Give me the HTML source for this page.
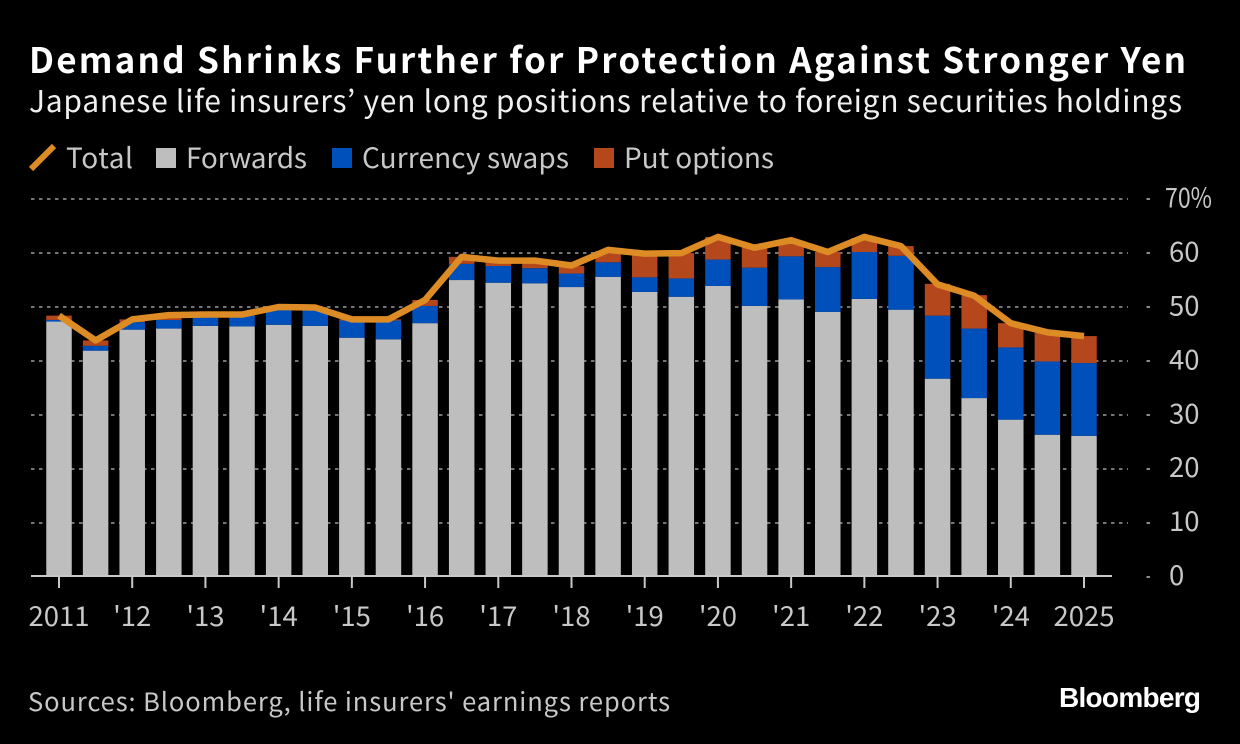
<!DOCTYPE html>
<html lang="en">
<head>
<meta charset="utf-8">
<title>Demand Shrinks Further for Protection Against Stronger Yen</title>
<style>
html,body{margin:0;padding:0;background:#000;width:1240px;height:744px;overflow:hidden}
svg{display:block}
text{font-family:"Noto Sans CJK JP","DejaVu Sans",sans-serif}
</style>
</head>
<body>
<svg id="chart" width="1240" height="744" viewBox="0 0 1240 744" xmlns="http://www.w3.org/2000/svg">
  <rect x="0" y="0" width="1240" height="744" fill="#000"/>
  <text x="29" y="73" font-size="35" font-weight="700" fill="#fff" textLength="1157" lengthAdjust="spacing">Demand Shrinks Further for Protection Against Stronger Yen</text>
  <text x="29" y="112" font-size="30" fill="#f0f0f0" textLength="1153" lengthAdjust="spacing">Japanese life insurers’ yen long positions relative to foreign securities holdings</text>

  <g>
    <g>
      <line x1="31" y1="169" x2="54" y2="146" stroke="#dd8c25" stroke-width="6"/>
      <text x="66" y="168" font-size="28" fill="#c8c8c8" textLength="67" lengthAdjust="spacing">Total</text>
    </g>
    <g>
      <rect x="156" y="148" width="20" height="20" fill="#bebebe"/>
      <text x="186" y="168" font-size="28" fill="#c8c8c8" textLength="121" lengthAdjust="spacing">Forwards</text>
    </g>
    <g>
      <rect x="332" y="148" width="20" height="20" fill="#0050bc"/>
      <text x="362" y="168" font-size="28" fill="#c8c8c8" textLength="207" lengthAdjust="spacing">Currency swaps</text>
    </g>
    <g>
      <rect x="594" y="148" width="20" height="20" fill="#b4471c"/>
      <text x="624" y="168" font-size="28" fill="#c8c8c8" textLength="150" lengthAdjust="spacing">Put options</text>
    </g>
  </g>

  <g id="grid"></g>
  <g id="bars"></g>
  <g id="axes"></g>
  <g id="line"></g>

  <text x="28" y="711" font-size="25.5" fill="#c8c8c8" textLength="642" lengthAdjust="spacing">Sources: Bloomberg, life insurers' earnings reports</text>
  <text x="1059" y="707" font-size="28" font-weight="700" fill="#fff" textLength="142" lengthAdjust="spacing" style="font-family:'Liberation Sans',sans-serif">Bloomberg</text>
</svg>
<script>
const periods = ['2011-H1','2011-H2','2012-H1','2012-H2','2013-H1','2013-H2','2014-H1','2014-H2','2015-H1','2015-H2','2016-H1','2016-H2','2017-H1','2017-H2','2018-H1','2018-H2','2019-H1','2019-H2','2020-H1','2020-H2','2021-H1','2021-H2','2022-H1','2022-H2','2023-H1','2023-H2','2024-H1','2024-H2','2025-H1'];
const forwards = [47.3,41.9,45.8,46.0,46.5,46.4,46.7,46.5,44.3,44.0,47.0,55.0,54.5,54.4,53.7,55.6,52.8,51.9,53.9,50.2,51.4,49.1,51.5,49.5,36.7,33.1,29.1,26.3,26.1];
const swaps = [0.3,0.9,1.4,1.6,2.0,2.1,3.2,3.4,3.2,3.5,3.2,3.0,3.1,2.8,2.5,2.7,2.7,3.4,4.9,7.1,8.0,8.3,8.7,10.0,11.7,12.9,13.4,13.6,13.5];
const puts = [0.8,1.0,0.5,0.5,0.1,0.1,0.1,0.1,0.2,0.2,1.1,1.3,0.8,1.2,1.4,2.1,4.5,4.7,4.2,4.1,2.9,2.8,2.6,1.8,5.9,6.2,4.5,5.3,5.0];
const total = [48.4,43.8,47.7,48.5,48.6,48.6,50.0,49.9,47.7,47.7,51.3,59.3,58.6,58.6,57.7,60.6,59.9,60.0,63.0,61.0,62.4,60.2,63.0,61.3,54.2,52.1,47.0,45.3,44.6];
const yTicks = [0,10,20,30,40,50,60,70];
const yTickLabels = ['0','10','20','30','40','50','60','70%'];
const xTickIndexes = [0,2,4,6,8,10,12,14,16,18,20,22,24,26,28];
const xTickLabels = ['2011',"'12","'13","'14","'15","'16","'17","'18","'19","'20","'21","'22","'23","'24",'2025'];

const NS = 'http://www.w3.org/2000/svg';
const xAt = i => 59 + i * (1084 - 59) / 28;
const yAt = v => 576.5 - v * 5.39;
const barWidth = 25.5;

function make(tag, attrs, parent) {
  const el = document.createElementNS(NS, tag);
  for (const k in attrs) el.setAttribute(k, attrs[k]);
  parent.appendChild(el);
  return el;
}

const grid = document.getElementById('grid');
const bars = document.getElementById('bars');
const axes = document.getElementById('axes');
const lineLayer = document.getElementById('line');

yTicks.forEach((t, i) => {
  const gy = Math.round(yAt(t));
  if (t !== 0) {
    const g = make('line', {x1: 31, x2: 1128, y1: gy, y2: gy, stroke: '#757575', 'stroke-width': 2, 'stroke-dasharray': '3.5 4.5'}, grid);
    
    
  }
  const tick = make('line', {x1: 1146.5, x2: 1150, y1: gy, y2: gy, stroke: '#8a8a8a', 'stroke-width': 2}, axes);
  
  
  const isTop = yTickLabels[i].length > 2;
  const label = make('text', {x: isTop ? 1165 : 1169, y: yAt(t) + 8.5, 'font-size': 27.5, fill: '#c8c8c8'}, axes);
  if (isTop) {
    label.setAttribute('textLength', 47);
    label.setAttribute('lengthAdjust', 'spacingAndGlyphs');
  }
  
  
  label.textContent = yTickLabels[i];
});

periods.forEach((p, i) => {
  const x = xAt(i) - barWidth / 2;
  const y0 = yAt(0);
  const y1 = yAt(forwards[i]);
  const y2 = yAt(forwards[i] + swaps[i]);
  const y3 = yAt(forwards[i] + swaps[i] + puts[i]);
  const f = make('rect', {x: x, y: y1, width: barWidth, height: y0 - y1, fill: '#bebebe'}, bars);
  
  
  const s = make('rect', {x: x, y: y2, width: barWidth, height: y1 - y2, fill: '#0050bc'}, bars);
  
  
  const o = make('rect', {x: x, y: y3, width: barWidth, height: y2 - y3, fill: '#b4471c'}, bars);
  
  
});

const axisLine = make('line', {x1: 31, x2: 1112, y1: 576, y2: 576, stroke: '#c8c8c8', 'stroke-width': 2}, axes);



xTickIndexes.forEach((idx, i) => {
  const tick = make('line', {x1: xAt(idx), x2: xAt(idx), y1: 577, y2: 588, stroke: '#c8c8c8', 'stroke-width': 2}, axes);
  
  
  const label = make('text', {x: xAt(idx), y: 626, 'font-size': 27.5, fill: '#c8c8c8', 'text-anchor': 'middle'}, axes);
  
  
  label.textContent = xTickLabels[i];
});

const totalLine = make('polyline', {
  points: total.map((v, i) => xAt(i) + ',' + yAt(v)).join(' '),
  fill: 'none', stroke: '#dd8c25', 'stroke-width': 6.5, 'stroke-linejoin': 'round', 'stroke-linecap': 'butt'
}, lineLayer);


</script>
</body>
</html>
